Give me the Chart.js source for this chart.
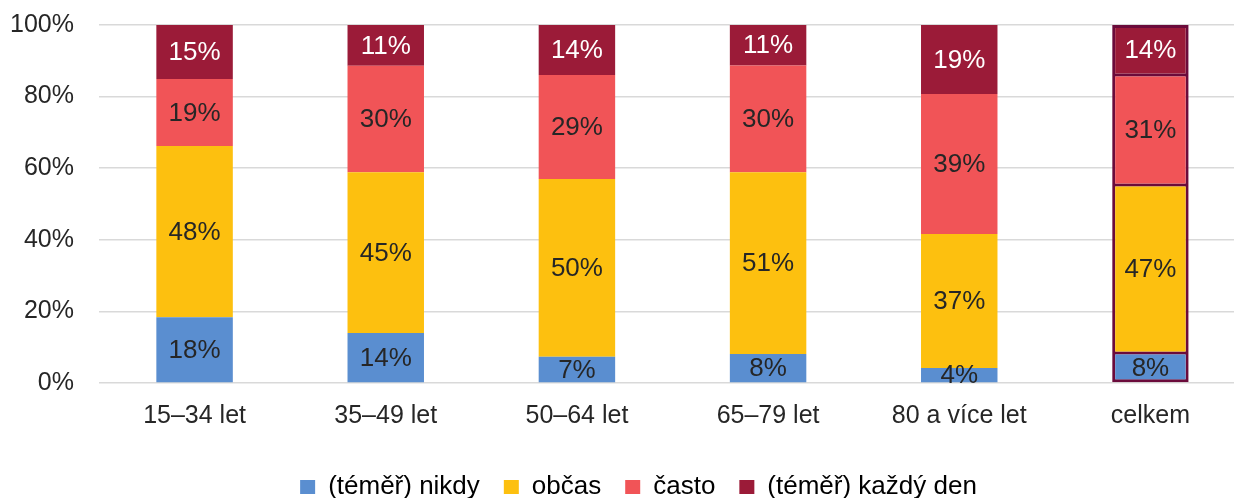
<!DOCTYPE html>
<html>
<head>
<meta charset="utf-8">
<script src="https://cdn.jsdelivr.net/npm/chart.js@4.4.0/dist/chart.umd.min.js"></script>
<style>
  html, body { margin: 0; padding: 0; background: #ffffff; overflow: hidden; }
  #wrap { width: 1276px; height: 510px; }
</style>
</head>
<body>
<div id="wrap"><canvas id="c" width="1276" height="510"></canvas></div>
<script>
const categories = ['15–34 let', '35–49 let', '50–64 let', '65–79 let', '80 a více let', 'celkem'];
const seriesNames = ['(téměř) nikdy', 'občas', 'často', '(téměř) každý den'];
const nikdy  = [18.4, 14.0,  7.3,  8.1,  4.2,  8.4];
const obcas  = [47.8, 44.9, 49.7, 50.8, 37.4, 46.9];
const casto  = [18.7, 29.7, 29.0, 29.8, 39.1, 30.7];
const kazdy  = [15.1, 11.4, 14.0, 11.3, 19.3, 14.0];
const yTicks = [0, 20, 40, 60, 80, 100];

const colors = ['#5A8ED0', '#FDC00F', '#F15457', '#9B1B38'];
const labelColors = ['#262626', '#262626', '#262626', '#ffffff'];
const totalBorder = '#6B0B3B';
const FONT = "'Liberation Sans', Arial, sans-serif";

const seriesValues = [nikdy, obcas, casto, kazdy];
const lastIdx = categories.length - 1;
const datasets = seriesValues.map((vals, i) => ({
  label: seriesNames[i],
  data: vals,
  backgroundColor: colors[i],
  borderColor: categories.map((c, j) => j === lastIdx ? totalBorder : 'rgba(0,0,0,0)'),
  borderWidth: (ctx) => ctx.dataIndex === lastIdx
    ? { left: 3, right: 3, top: i === seriesValues.length - 1 ? 3 : 1.5, bottom: i === 0 ? 3 : 1.5 }
    : 0,
  borderSkipped: false,
  barPercentage: 0.4,
  categoryPercentage: 1.0
}));

const valueLabels = {
  id: 'valueLabels',
  afterDatasetsDraw(chart) {
    const ctx = chart.ctx;
    ctx.save();
    ctx.font = '26px ' + FONT;
    ctx.textAlign = 'center';
    ctx.textBaseline = 'middle';
    chart.data.datasets.forEach((ds, i) => {
      const meta = chart.getDatasetMeta(i);
      meta.data.forEach((el, j) => {
        const v = ds.data[j];
        ctx.fillStyle = labelColors[i];
        ctx.fillText(Math.round(v) + '%', el.x, (el.y + el.base) / 2 + 1);
      });
    });
    ctx.restore();
  }
};

const legendShift = {
  id: 'legendShift',
  afterLayout(chart) {
    const lg = chart.legend;
    if (lg) { lg.left += 15.5; lg.right += 15.5; }
  }
};

new Chart(document.getElementById('c'), {
  type: 'bar',
  data: { labels: categories, datasets },
  options: {
    responsive: false,
    animation: false,
    layout: { padding: { left: 0, right: 30, top: 25, bottom: 0 } },
    scales: {
      x: {
        stacked: true,
        grid: { display: false },
        border: { display: false },
        ticks: { color: '#262626', font: { family: FONT, size: 25 }, padding: 10, maxRotation: 0 },
        afterFit(scale) { scale.height = 67; }
      },
      y: {
        stacked: true,
        min: 0, max: 100,
        afterBuildTicks(scale) { scale.ticks = yTicks.map(v => ({ value: v })); },
        grid: { color: '#D9D9D9', lineWidth: 1.5, drawTicks: false },
        border: { display: false },
        ticks: { color: '#262626', font: { family: FONT, size: 25 }, padding: 25, callback: v => v + '%' },
        afterFit(scale) { scale.width = 99; scale.paddingTop = 0; scale.paddingBottom = 0; }
      }
    },
    plugins: {
      legend: {
        position: 'bottom',
        labels: {
          boxWidth: 15, boxHeight: 14, padding: 24,
          color: '#262626',
          font: { family: FONT, size: 26 },
          generateLabels(chart) {
            return chart.data.datasets.map((ds, i) => ({
              text: ds.label, fillStyle: colors[i], strokeStyle: colors[i], lineWidth: 0, datasetIndex: i, hidden: false
            }));
          }
        }
      },
      tooltip: { enabled: false }
    }
  },
  plugins: [valueLabels, legendShift]
});
</script>
</body>
</html>
